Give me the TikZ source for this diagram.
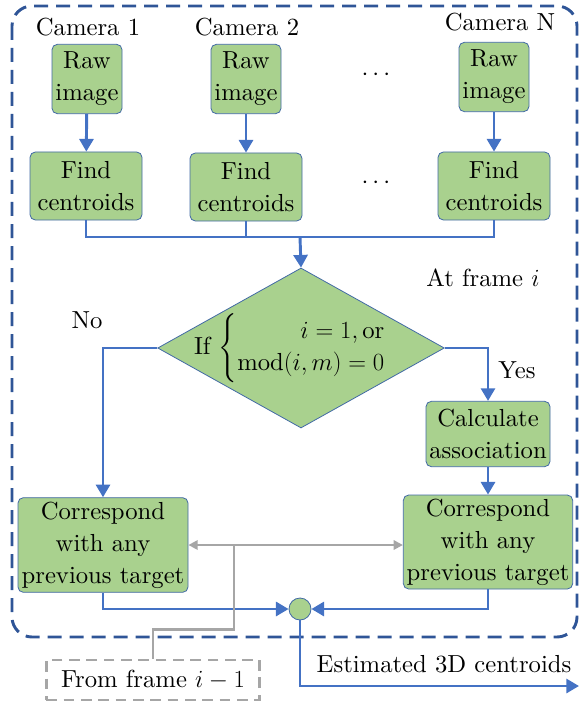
\RequirePackage{fix-cm}
\documentclass[tikz,border=0pt]{standalone}
\usepackage{amsmath}
\usepackage{fontspec}
\setmainfont{lmroman10-regular.otf}[ItalicFont=lmroman10-italic.otf, BoldFont=lmroman10-bold.otf]
\usetikzlibrary{arrows.meta,shapes.geometric}

\definecolor{lineblue}{RGB}{68,114,196}
\definecolor{boxgreen}{RGB}{169,209,142}
\definecolor{boxedge}{RGB}{65,105,165}
\definecolor{outerblue}{RGB}{47,85,151}
\definecolor{linegray}{RGB}{166,166,166}

\tikzset{
    every node/.style={font=\fontsize{18.5}{24}\selectfont},
    box/.style={draw=boxedge, fill=boxgreen, rounded corners=4pt, align=center, inner sep=0pt, line width=0.6pt},
    flow/.style={draw=lineblue, line width=2.2pt, -{Triangle[length=9.5pt,width=10.5pt]}},
    flowline/.style={draw=lineblue, line width=2.2pt},
    grayflow/.style={draw=linegray, line width=1.8pt},
}

\begin{document}
\begin{tikzpicture}[x=0.75pt,y=-0.75pt]
\useasboundingbox (0,0) rectangle (579,702);

% outer frame
\draw[outerblue, line width=2.2pt, dash pattern=on 10.5pt off 6pt, rounded corners=15pt] (12,6) rectangle (577,637);

% cameras
\node (cam1) at (88,27) {Camera 1};
\node (cam2) at (247,27) {Camera 2};
\node (camN) at (500,22) {Camera N};

\node[box, minimum width=52.5pt, minimum height=52pt] (raw1) at (87,79) {Raw\\image};
\node[box, minimum width=52.5pt, minimum height=52pt] (raw2) at (246,79) {Raw\\image};
\node[box, minimum width=52.5pt, minimum height=52pt] (rawN) at (494,77) {Raw\\image};

\node[box, minimum width=84pt, minimum height=51pt] (find1) at (86,186) {Find\\centroids};
\node[box, minimum width=84pt, minimum height=51pt] (find2) at (246,187) {Find\\centroids};
\node[box, minimum width=84pt, minimum height=51pt] (findN) at (494,186) {Find\\centroids};

\node (dots1) at (378,75) {$\cdots$};
\node (dots2) at (378,183) {$\cdots$};

\draw[flow] (raw1) -- (find1);
\draw[flow] (raw2) -- (find2);
\draw[flow] (rawN) -- (findN);

% merge
\coordinate (mrg) at (300,237);
\draw[flowline] (find1.south) |- (mrg) -| (findN.south);
\draw[flowline] (find2.south) -- (find2.south |- mrg);

% decision
\node[shape=diamond, draw=boxedge, fill=boxgreen, line width=0.6pt, minimum width=215pt, minimum height=120pt, inner sep=0pt] (dec) at (301,348) {};
\node (cond) at (290,348) {If $\left\{\begin{array}{@{}r@{}} i=1,\mathrm{or}\\ \mathrm{mod}(i,m)=0\end{array}\right.$};
\draw[flow] (mrg) -- (dec.north);

\node (atf) at (483,278) {At frame $i$};
\node (no) at (87,320) {No};
\node (yes) at (517,370) {Yes};

\node[box, minimum width=93pt, minimum height=49pt] (calc) at (488,434) {Calculate\\association};
\node[box, minimum width=127.5pt, minimum height=71pt] (corrL) at (103,545) {Correspond\\with any\\previous target};
\node[box, minimum width=127pt, minimum height=70.5pt] (corrR) at (488,542) {Correspond\\with any\\previous target};

\draw[flow] (dec.west) -| (corrL.north);
\draw[flow] (dec.east) -| (calc.north);
\draw[flow] (calc) -- (corrR);

% output
\node[circle, draw=boxedge, fill=boxgreen, line width=0.6pt, minimum size=16.5pt, inner sep=0pt] (jn) at (300,609) {};
\draw[flow] (corrL.south) |- (jn.west);
\draw[flow] (corrR.south) |- (jn.east);
\coordinate (out) at (579,686);
\draw[flow] (jn.south) |- (out);
\node (est) at (444,664) {Estimated 3D centroids};

% previous frame
\node[draw=linegray, line width=2pt, dash pattern=on 8pt off 5pt, minimum width=160pt, minimum height=30pt, inner sep=0pt] (prev) at (153,680) {From frame $i-1$};
\coordinate (gj) at (234,545);
\draw[grayflow] (prev.north) -- ++(0,-29) -| (gj);
\draw[grayflow, {Triangle[length=7pt,width=7pt]}-{Triangle[length=7pt,width=7pt]}] (corrL.east) -- (corrL.east -| corrR.west);

\end{tikzpicture}
\end{document}
